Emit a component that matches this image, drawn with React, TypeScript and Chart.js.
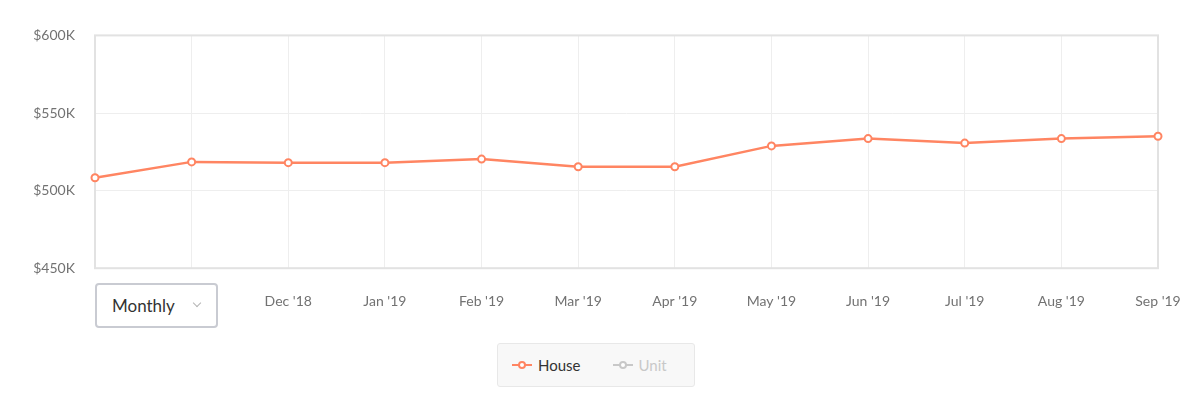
import React, { useEffect, useRef } from "react";
import { Chart, registerables } from "chart.js";

Chart.register(...registerables);

const categories = ["Oct '18", "Nov '18", "Dec '18", "Jan '19", "Feb '19", "Mar '19", "Apr '19", "May '19", "Jun '19", "Jul '19", "Aug '19", "Sep '19"];
const houseValues = [508300, 518500, 518000, 518000, 520300, 515400, 515400, 528800, 533500, 530600, 533500, 535000];
const yTicks = [450000, 500000, 550000, 600000];
const seriesNames = ["House", "Unit"];

const CORAL = "#ff8562";
const FONT = "Lato, 'Open Sans', sans-serif";

const frame = {
  id: "frame",
  beforeDatasetsDraw(chart: any) {
    const { ctx, chartArea } = chart;
    ctx.save();
    ctx.strokeStyle = "#e2e2e2";
    ctx.lineWidth = 2;
    ctx.strokeRect(chartArea.left, chartArea.top, chartArea.right - chartArea.left, chartArea.bottom - chartArea.top);
    ctx.restore();
  },
};

function LegendIcon({ color }: { color: string }) {
  return (
    <span style={{ position: "relative", display: "inline-block", width: 20, height: 10, marginRight: 6, verticalAlign: "middle" }}>
      <span style={{ position: "absolute", left: 0, top: 4, width: 20, height: 2, background: color }} />
      <span style={{ position: "absolute", left: 6, top: 1, width: 4, height: 4, borderRadius: "50%", background: "#fff", border: `2px solid ${color}` }} />
    </span>
  );
}

export default function App() {
  const ref = useRef<HTMLCanvasElement>(null);
  useEffect(() => {
    if (!ref.current) return;
    const chart = new Chart(ref.current, {
      type: "line",
      data: {
        labels: categories,
        datasets: [
          {
            label: seriesNames[0],
            data: houseValues,
            borderColor: CORAL,
            backgroundColor: "#ffffff",
            borderWidth: 2.5,
            pointRadius: 3.5,
            pointBorderWidth: 2,
            pointBackgroundColor: "#ffffff",
            pointBorderColor: CORAL,
            tension: 0,
          },
        ],
      },
      options: {
        animation: false,
        responsive: false,
        layout: { padding: { top: 27, right: 30, bottom: 18, left: 0 } },
        plugins: { legend: { display: false }, tooltip: { enabled: false } },
        scales: {
          x: {
            grid: { color: "#eeeeee", lineWidth: 1, drawTicks: true, tickLength: 25, tickColor: "rgba(0,0,0,0)" },
            border: { display: false },
            ticks: {
              padding: 0,
              color: "#727272",
              font: { family: FONT, size: 14 },
              maxRotation: 0,
              autoSkip: false,
              callback: (_v: any, i: number) => (i === 0 ? "" : categories[i]),
            },
          },
          y: {
            min: yTicks[0],
            max: yTicks[yTicks.length - 1],
            afterBuildTicks: (s: any) => {
              s.ticks = yTicks.map((v) => ({ value: v }));
            },
            afterFit: (s: any) => {
              s.width = 87;
            },
            grid: { color: "#eeeeee", lineWidth: 1, drawTicks: false },
            border: { display: false },
            ticks: {
              padding: 20,
              color: "#727272",
              font: { family: FONT, size: 14 },
              callback: (v: any) => "$" + Number(v) / 1000 + "K",
            },
          },
        },
      },
      plugins: [frame],
    });
    return () => chart.destroy();
  }, []);

  return (
    <div style={{ position: "relative", width: 1180, height: 382, fontFamily: FONT }}>
      <canvas ref={ref} width={1180} height={321} style={{ position: "absolute", left: 0, top: -1, width: 1180, height: 321 }} />
      <div
        style={{
          position: "absolute",
          left: 87,
          top: 275,
          width: 123,
          height: 45,
          boxSizing: "border-box",
          border: "2px solid #c9cbd2",
          borderRadius: 4,
          background: "#fff",
          display: "flex",
          alignItems: "center",
          paddingLeft: 15,
          fontSize: 17,
          color: "#333",
        }}
      >
        Monthly
        <span
          style={{
            position: "absolute",
            left: 97,
            top: 15,
            width: 5,
            height: 5,
            borderRight: "1px solid #b5b5b5",
            borderBottom: "1px solid #b5b5b5",
            transform: "rotate(45deg)",
          }}
        />
      </div>
      <div
        style={{
          position: "absolute",
          left: 489,
          top: 335,
          width: 198,
          height: 44,
          boxSizing: "border-box",
          background: "#f8f8f8",
          border: "1px solid #e8e8e8",
          borderRadius: 3,
          display: "flex",
          alignItems: "center",
          paddingLeft: 14,
          fontSize: 15,
        }}
      >
        <LegendIcon color={CORAL} />
        <span style={{ color: "#333", marginRight: 32 }}>{seriesNames[0]}</span>
        <LegendIcon color="#c8c8c8" />
        <span style={{ color: "#c8c8c8" }}>{seriesNames[1]}</span>
      </div>
    </div>
  );
}
